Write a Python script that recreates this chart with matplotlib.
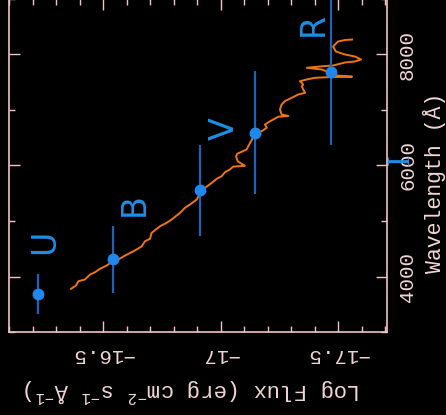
import matplotlib
matplotlib.use("Agg")
import matplotlib.pyplot as plt
from matplotlib.ticker import MultipleLocator, FixedLocator, FixedFormatter

# ---- data ----
spec_wave = [3778, 3838, 3915, 3946, 4036, 4077, 4139, 4198, 4276, 4306, 4378, 4438,
             4486, 4546, 4636, 4679, 4787, 4859, 4906, 4968, 5027, 5148, 5238, 5297,
             5387, 5532, 5598, 5688, 5760, 5807, 5879, 5928, 5980, 5995, 6072, 6162,
             6211, 6288, 6409, 6559, 6618, 6679, 6739, 6798, 6829, 6878, 6892, 6919,
             7009, 7099, 7159, 7220, 7279, 7310, 7369, 7429, 7459, 7519, 7550, 7580,
             7590, 7600, 7627, 7670, 7730, 7760, 7784, 7802, 7856, 7874, 7910, 7964,
             8000, 8054, 8144, 8234, 8261, 8270]
spec_flux = [-16.364, -16.385, -16.395, -16.423, -16.445, -16.466, -16.487, -16.516,
             -16.541, -16.565, -16.594, -16.622, -16.643, -16.665, -16.679, -16.700,
             -16.707, -16.729, -16.743, -16.771, -16.792, -16.828, -16.849, -16.870,
             -16.899, -16.917, -16.934, -16.963, -16.984, -17.005, -17.019, -17.040,
             -17.054, -17.104, -17.074, -17.066, -17.071, -17.111, -17.126, -17.147,
             -17.175, -17.197, -17.189, -17.211, -17.225, -17.246, -17.289, -17.260,
             -17.253, -17.260, -17.274, -17.303, -17.331, -17.360, -17.352, -17.346,
             -17.352, -17.338, -17.367, -17.402, -17.452, -17.560, -17.479, -17.466,
             -17.431, -17.367, -17.423, -17.479, -17.530, -17.572, -17.598, -17.572,
             -17.530, -17.491, -17.479, -17.500, -17.530, -17.560]

phot_wave = [3680, 4310, 5550, 6590, 7676]
phot_flux = [-16.223, -16.543, -16.913, -17.147, -17.470]
phot_werr = [360, 600, 820, 1110, 1300]

band_names = ["U", "B", "V", "R"]
band_flux = [-16.253, -16.634, -17.015, -17.394]
band_wave = [4631, 5288, 6667, 8541]
extra_name = "I"
extra_flux = -17.768
extra_wave = 6108

flux_ticks = [-16.5, -17.0, -17.5]
flux_ticklabels = ["\u221216.5", "\u221217", "\u221217.5"]
wave_ticks = [4000, 6000, 8000]
wave_ticklabels = ["4000", "6000", "8000"]

xlabel_text = r"Log Flux (erg cm$^{-2}$ s$^{-1}$ Å$^{-1}$)"
ylabel_text = "Wavelength (Å)"

# ---- style ----
axcol = "#f0c4c4"
txtcol = "#f2d6d6"
blue_bar = "#1c64b8"
blue_dot = "#1e88ee"
blue_txt = "#1d8fe6"
orange = "#f07412"

plt.rcParams["font.family"] = ["Liberation Mono", "DejaVu Sans Mono"]
plt.rcParams["mathtext.default"] = "regular"

W, H = 446, 415
fig = plt.figure(figsize=(W / 100, H / 100), dpi=100, facecolor="black")
ax = fig.add_axes([9 / W, 83 / H, 378 / W, 333 / H], facecolor="black")

ax.plot(spec_flux, spec_wave, color=orange, lw=1.4, zorder=2)
ax.errorbar(phot_flux, phot_wave, yerr=phot_werr, fmt="none", ecolor=blue_bar,
            elinewidth=1.6, capsize=0, zorder=3)
ax.plot(phot_flux, phot_wave, "o", color=blue_dot, ms=7.5, mec=blue_dot, zorder=4)

for name, f, w in zip(band_names, band_flux, band_wave):
    ax.text(f, w, name, color=blue_txt, fontsize=24, rotation=90, ha="center",
            va="center", family="DejaVu Sans", zorder=5)
ax.text(extra_flux, extra_wave, extra_name, color=blue_txt, fontsize=23,
        rotation=90, ha="center", va="center", family="Liberation Serif",
        clip_on=False, zorder=5)

ax.set_xlim(-16.1, -17.7085)
ax.set_ylim(3000, 9000)

ax.xaxis.set_major_locator(FixedLocator(flux_ticks))
ax.xaxis.set_major_formatter(FixedFormatter(flux_ticklabels))
ax.xaxis.set_minor_locator(MultipleLocator(0.1))
ax.yaxis.set_major_locator(FixedLocator(wave_ticks))
ax.yaxis.set_major_formatter(FixedFormatter(wave_ticklabels))
ax.yaxis.set_minor_locator(MultipleLocator(1000))

ax.tick_params(which="both", direction="in", top=True, bottom=True, left=True,
               right=True, labelleft=False, labelright=True, labelbottom=True,
               labeltop=False, color=axcol, labelcolor=txtcol, width=1.0)
ax.tick_params(which="major", length=8, labelsize=15)
ax.tick_params(which="minor", length=4.3)
ax.tick_params(axis="x", which="major", pad=9, labelrotation=180)
ax.tick_params(axis="y", which="major", pad=8, labelrotation=90)
for lab in ax.get_yticklabels():
    lab.set_va("center")

for s in ax.spines.values():
    s.set_color(axcol)
    s.set_linewidth(1.2)

fig.text(192 / W, 1 - 390 / H, xlabel_text, color=txtcol, fontsize=16,
         rotation=180, ha="center", va="center")
fig.text(434 / W, 1 - 183 / H, ylabel_text, color=txtcol, fontsize=15.5,
         rotation=90, ha="center", va="center")

fig.savefig("out.png", dpi=100, facecolor="black")
